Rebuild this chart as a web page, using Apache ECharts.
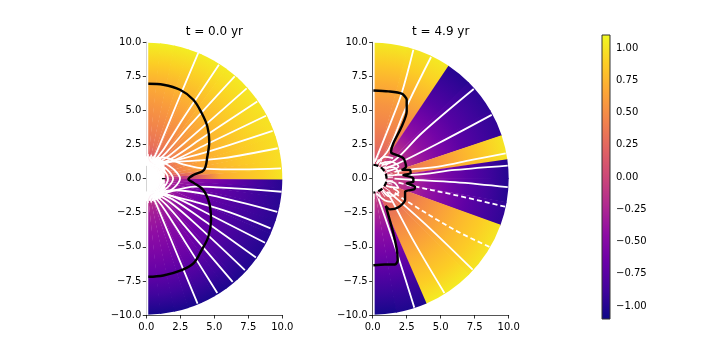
<!DOCTYPE html>
<html><head><meta charset="utf-8">
<style>html,body{margin:0;padding:0;background:#fff}#c{width:708px;height:354px}</style>
<script src="https://cdn.jsdelivr.net/npm/echarts@6/dist/echarts.min.js"></script>
</head><body><div id="c"></div>
<script>
const titles = ['t = 0.0 yr', 't = 4.9 yr'];
const axisTicks = [-10, -7.5, -5, -2.5, 0, 2.5, 5, 7.5, 10];
const colorbarTicks = [-1, -0.75, -0.5, -0.25, 0, 0.25, 0.5, 0.75, 1];
const colorRange = [-1.1, 1.1];
const plasma = ['#0d0887','#41049d','#6a00a8','#8f0da4','#b12a90','#cc4778','#e16462','#f2844b','#fca636','#fcce25','#f0f921'];
const radii = [1, 1.5, 2.5, 4, 5.5, 7, 8.5, 10];

const edgesA = [89.5,84,78,72,66,60,54,48,42,36,30,24,18,12,8,4,-0.5,-4,-8,-12,-18,-24,-30,-36,-42,-48,-54,-60,-66,-72,-78,-84,-89.5];
const fieldA = [
[.05,.12,.30,.44,.56,.70,.88,1.05],
[.05,.13,.31,.45,.57,.71,.88,1.05],
[.05,.14,.32,.46,.59,.72,.89,1.04],
[.06,.15,.33,.48,.61,.74,.89,1.04],
[.07,.16,.35,.50,.63,.76,.90,1.03],
[.08,.18,.36,.52,.65,.78,.91,1.03],
[.09,.20,.38,.55,.68,.80,.92,1.02],
[.10,.21,.40,.57,.70,.81,.92,1.02],
[.10,.22,.41,.60,.72,.83,.93,1.01],
[.10,.23,.43,.62,.74,.84,.93,1.00],
[.10,.24,.44,.64,.75,.84,.93,.99],
[.10,.25,.45,.65,.76,.84,.92,.98],
[.09,.22,.44,.65,.76,.84,.91,.97],
[.05,.15,.40,.62,.76,.84,.90,.96],
[-.02,.05,.20,.50,.72,.82,.90,.97],
[-.10,-.10,-.15,.20,.68,.80,.88,1.00],
[-.08,-.12,-.30,-.50,-.62,-.75,-.88,-.98],
[-.05,-.15,-.36,-.55,-.68,-.80,-.90,-.98],
[-.08,-.20,-.40,-.58,-.70,-.80,-.90,-.98],
[-.10,-.22,-.42,-.60,-.72,-.82,-.90,-.98],
[-.10,-.23,-.43,-.62,-.73,-.83,-.91,-.99],
[-.10,-.22,-.42,-.60,-.72,-.83,-.92,-1.00],
[-.10,-.21,-.40,-.58,-.70,-.81,-.92,-1.01],
[-.09,-.20,-.39,-.56,-.68,-.80,-.92,-1.02],
[-.08,-.19,-.37,-.54,-.66,-.78,-.91,-1.03],
[-.07,-.17,-.36,-.52,-.64,-.76,-.90,-1.03],
[-.06,-.16,-.34,-.50,-.62,-.75,-.90,-1.04],
[-.06,-.15,-.33,-.48,-.60,-.73,-.89,-1.04],
[-.05,-.14,-.32,-.46,-.58,-.72,-.89,-1.05],
[-.05,-.13,-.31,-.45,-.57,-.71,-.88,-1.05],
[-.05,-.12,-.30,-.44,-.56,-.70,-.88,-1.06],
[-.05,-.12,-.30,-.44,-.56,-.70,-.88,-1.06]
];

const edgesB = [89.5,75,65,56,45,30,18.5,8,0,-10,-20,-45,-66.8,-80,-89.5];
const fieldB = [
[.05,.10,.30,.44,.55,.70,.86,1.02],
[.05,.10,.30,.45,.56,.72,.88,1.00],
[.05,.10,.30,.46,.58,.74,.90,1.02],
[.05,-.02,-.15,-.42,-.60,-.78,-.90,-1.00],
[.05,-.02,-.18,-.42,-.60,-.76,-.88,-.97],
[.05,-.02,-.16,-.40,-.58,-.75,-.87,-.95],
[.05,.12,.30,.48,.62,.75,.87,1.00],
[.00,-.02,-.15,-.40,-.58,-.75,-.88,-1.00],
[.00,-.05,-.18,-.42,-.58,-.75,-.88,-1.00],
[-.05,-.10,-.20,-.40,-.55,-.72,-.85,-.95],
[.05,.12,.30,.48,.62,.76,.87,1.00],
[.05,.12,.30,.48,.62,.76,.88,1.03],
[.00,-.08,-.25,-.45,-.60,-.77,-.92,-1.03],
[.00,-.08,-.25,-.45,-.60,-.77,-.92,-1.06]
];

const fanAnglesA = [90,86,82,78,74,70,66,62,58,54,50,46,42,38,34,30,26,22,18,14,10,6,2,-2,-6,-10,-14,-18,-22,-26,-30,-34,-38,-42,-46,-50,-54,-58,-62,-66,-70,-74,-78,-82,-86,-90];
const fanRadiiA = [1.65,1.8,1.65,1.8,1.7,1.8,1.7,1.8,1.7,1.8,1.7,1.75,1.65,1.7,1.6,1.65,1.55,1.5,1.45,1.4,1.38,1.36,1.36,1.36,1.36,1.38,1.4,1.45,1.5,1.55,1.65,1.6,1.7,1.65,1.75,1.7,1.8,1.7,1.8,1.7,1.8,1.7,1.8,1.65,1.8,1.65];
const fanAnglesB = [84,74,64,54,44,34,24,14,4,-6,-16,-26,-36,-46,-56,-66,-76,-86];
const fanRadiiB = [1.5,1.5,1.55,1.6,1.6,1.6,1.55,1.5,1.5,1.5,1.5,1.55,1.6,1.6,1.6,1.55,1.5,1.5];
const whiteA = [
[[3.82,9.22],[2.2,5.4],[1.0,2.5],[.45,1.25]],
[[5.34,8.36],[2.8,4.55],[1.3,2.2],[.5,1.2]],
[[6.5,7.5],[3.2,3.9],[1.5,1.95],[.6,1.15]],
[[7.38,6.62],[3.6,3.3],[1.7,1.7],[.7,1.1]],
[[8.16,5.66],[4,2.9],[1.9,1.5],[.8,1.05]],
[[8.8,4.61],[4.4,2.5],[2.0,1.32],[.9,1.0]],
[[9.29,3.5],[6.15,2.48],[3.7,1.74],[1.74,1.25],[.9,1.1]],
[[9.66,2.23],[5.66,1.5],[3,1.28],[1.37,1.25],[.8,1.3]],
[[9.9,.76],[7,.68],[4.5,.72],[2.7,1.05],[1.3,1.55],[.7,1.5]],
[[.5,1.35],[1.3,1.15],[2,.7],[2.48,0],[2,-.7],[1.3,-1.15],[.5,-1.35]],
[[.5,1.2],[1.2,.9],[1.7,.5],[1.97,0],[1.7,-.5],[1.2,-.9],[.5,-1.2]],
[[.6,1.0],[1.2,.7],[1.6,0],[1.2,-.7],[.6,-1.0]],
[[9.95,-.96],[6.5,-.72],[3.7,-.59],[1.5,-1.03],[.7,-1.5]],
[[9.63,-2.43],[4.7,-1.2],[2.0,-.85],[1.0,-1.0]],
[[9.14,-3.65],[6.15,-2.48],[3.7,-1.74],[1.74,-1.25],[.9,-1.1]],
[[8.73,-4.7],[4.4,-2.5],[2.0,-1.32],[.9,-1.0]],
[[8.06,-5.78],[4,-2.9],[1.9,-1.5],[.8,-1.05]],
[[7.25,-6.71],[3.6,-3.3],[1.7,-1.7],[.7,-1.1]],
[[6.35,-7.57],[3.2,-3.9],[1.5,-1.95],[.6,-1.15]],
[[5.22,-8.38],[2.8,-4.55],[1.3,-2.2],[.5,-1.2]],
[[3.77,-9.17],[2.2,-5.4],[1.0,-2.5],[.45,-1.25]]
];
const blackA = [
[.15,6.96],[1.25,6.89],[2.48,6.52],[3.46,5.79],[4.07,4.81],[4.49,3.82],[4.63,2.72],[4.49,1.62],[4.24,.64],[3.46,.27],[3.09,-.05],[3.46,-.29],[4.19,-.83],[4.63,-1.81],[4.76,-3.04],[4.56,-4.26],[4.07,-5.24],[3.46,-6.22],[2.6,-6.71],[1.25,-7.1],[.15,-7.2]
];
const blackTickA = [[1.15,0],[1.42,0]];

const whiteB = [
[[2.99,9.46],[2.13,6.27],[1.4,4.31],[.17,1.25]],
[[4.29,8.92],[2.38,5.05],[1.15,2.11],[.3,1.13]],
[[7.43,6.57],[3.6,3.33],[1.64,1.37],[.66,1.0]],
[[8.75,4.68],[4.83,2.6],[1.89,1.13],[.9,.76]],
[[9.78,1.86],[7.28,1.37],[4.83,.88],[2.4,.64],[1.6,.5]],
[[9.93,.96],[6.05,.64],[2.87,.27],[1.64,.27]],
[[9.93,-.62],[6.05,-.25],[2.87,-.08],[1.6,0]],
[[7.35,-6.67],[4.34,-3.77],[1.89,-1.57],[1.15,-.96]],
[[5.27,-8.38],[3.11,-4.75],[1.4,-1.57],[1.03,-.96]],
[[3.06,-9.46],[1.64,-5],[.42,-1.45]],
[[.5,1.1],[1.3,1.25],[1.9,.9],[1.0,.55]],
[[.7,.8],[1.5,.85],[1.9,.4],[1.05,.2]],
[[1.0,-.2],[1.6,-.3],[1.9,-.7],[1.0,-.55]],
[[.7,-.8],[1.2,-1.3],[1.9,-1.0],[1.5,-.7]],
[[.3,1.1],[.9,1.6],[1.5,1.5]],
[[.3,-1.1],[.9,-1.6],[1.4,-1.7]]
];
const dashedB = [
[[9.73,-2.06],[6.05,-1.2],[2.62,-.47],[1.89,-.29]],
[[8.58,-5],[6.05,-3.77],[2.38,-1.57],[1.52,-.96]]
];
const blackB = [
[.05,6.47],[1.15,6.4],[2.13,6.23],[2.5,5.78],[2.5,4.93],[2.13,3.82],[1.52,2.6],[1.35,1.99],[1.4,1.87],[2.25,1.5],[2.45,.88],[2.13,.64],[2.74,.64],[2.79,.4],[2.25,.27],[2.99,.03],[2.99,-.22],[2.5,-.34],[3.11,-.59],[3.06,-.78],[2.38,-.96],[2.38,-1.57],[1.89,-2.1],[1.27,-2.25],[.96,-2.0],[1.52,-4.02],[1.76,-5.12],[1.84,-5.98],[1.64,-6.3],[.9,-6.3],[.05,-6.35]
];
const starB = [[.05,1.02],[.36,.95],[.72,.72],[.95,.36],[1.02,0],[.95,-.36],[.72,-.72],[.36,-.95],[.05,-1.02]];
const fieldEdge = [[.07,-10],[.07,10]];

const font = '"DejaVu Sans"';
function colorOf(v){
  const t = Math.max(0, Math.min(1, (v - colorRange[0]) / (colorRange[1] - colorRange[0]))) * (plasma.length - 1);
  const i = Math.min(plasma.length - 2, Math.floor(t)), f = t - i;
  const p = s => [1,3,5].map(k => parseInt(s.substr(k,2),16));
  const a = p(plasma[i]), b = p(plasma[i+1]);
  return 'rgb(' + a.map((x,k) => Math.round(x + (b[k]-x)*f)).join(',') + ')';
}
function wedges(edges, field){
  return field.map((row,i) => [edges[i+1], edges[i], ...row]);
}
function renderWedge(params, api){
  const o = api.coord([0,0]);
  const R = api.size([10,0])[0];
  const lo = api.value(0), hi = api.value(1);
  const stops = radii.map((r,k) => ({offset: r/10, color: colorOf(api.value(2+k))}));
  const pad = 0.15;
  return {
    type:'sector',
    shape:{cx:o[0], cy:o[1], r0:R*radii[0]/10, r:R,
      startAngle:-(hi+pad)*Math.PI/180, endAngle:-(lo-pad)*Math.PI/180, clockwise:true},
    style:{fill:new echarts.graphic.RadialGradient(o[0],o[1],R,stops,true)},
    silent:true
  };
}
function lineSeries(i, data, color, width, dashed, z, smooth){
  return {type:'line', xAxisIndex:i, yAxisIndex:i, data, showSymbol:false, symbol:'none',
    smooth: smooth === undefined ? 0.35 : smooth, silent:true, animation:false, z,
    lineStyle:{color, width, type:dashed ? [5,3] : 'solid', cap:'butt'}};
}
function axisBase(min,max,color,isX){
  return {type:'value', min, max, interval:2.5, splitLine:{show:false},
    axisLine:{show:true, onZero:false, lineStyle:{color, width:1}},
    axisTick:{length:3.5, customValues:axisTicks, lineStyle:{color:'#000', width:0.8}},
    axisLabel:{color:'#000', fontFamily:font, fontSize:10, margin:isX ? 7 : 5, padding:isX ? 0 : [2,0,0,0],
      formatter:v => v.toFixed(1).replace('-', '\u2212')}};
}
const grids = [
  {left:146.3, top:42.3, width:136, height:272.7},
  {left:372.7, top:42.3, width:136, height:272.7},
  {left:602, top:35, width:8, height:284}
];
const series = [];
[[edgesA,fieldA],[edgesB,fieldB]].forEach(([e,f],i)=>{
  series.push({type:'custom', xAxisIndex:i, yAxisIndex:i, data:wedges(e,f), renderItem:renderWedge,
    coordinateSystem:'cartesian2d', encode:{x:0,y:1}, animation:false, silent:true, z:1, clip:false});
  series.push(lineSeries(i,fieldEdge,'#fff',2,false,1.5,false));
});
const fan = (a,r,inner) => a.map((d,k)=>{
  const t = d*Math.PI/180;
  return [[inner*Math.cos(t),inner*Math.sin(t)],[r[k]*Math.cos(t),r[k]*Math.sin(t)]];
});
fan(fanAnglesA,fanRadiiA,0.95).forEach(d=>series.push(lineSeries(0,d,'#fff',1.7,false,2,false)));
fan(fanAnglesB,fanRadiiB,1).forEach(d=>series.push(lineSeries(1,d,'#fff',0.9,false,2,false)));
whiteA.forEach(d=>series.push(lineSeries(0,d,'#fff',1.8,false,2)));
series.push(lineSeries(0,blackA,'#000',2.4,false,3));
series.push(lineSeries(0,blackTickA,'#000',1.4,false,3,false));
whiteB.forEach(d=>series.push(lineSeries(1,d,'#fff',1.8,false,2)));
dashedB.forEach(d=>series.push(lineSeries(1,d,'#fff',1.8,true,2)));
series.push(lineSeries(1,blackB,'#000',2.4,false,3,0.25));
series.push(lineSeries(1,starB,'#000',2.2,true,3));
series.push({type:'custom', xAxisIndex:2, yAxisIndex:2, data:[[0,colorRange[0],1,colorRange[1]]], animation:false, silent:true,
  encode:{x:0,y:1},
  renderItem:(p,api)=>{
    const a = api.coord([api.value(0),api.value(3)]), b = api.coord([api.value(2),api.value(1)]);
    return {type:'rect', shape:{x:a[0],y:a[1],width:b[0]-a[0],height:b[1]-a[1]},
      style:{fill:new echarts.graphic.LinearGradient(0,1,0,0,plasma.map((c,k)=>({offset:k/(plasma.length-1),color:c}))),
        stroke:'#333', lineWidth:1}};
  }});
const chart = echarts.init(document.getElementById('c'), null, {renderer:'canvas'});
chart.setOption({
  animation:false, backgroundColor:'#fff',
  title:titles.map((t,i)=>({text:t, left:[214.3,440.7][i], top:26, textAlign:'center',
    textStyle:{fontFamily:font, fontSize:12, fontWeight:'normal', color:'#000'}, padding:0})),
  grid:grids,
  xAxis:[
    Object.assign(axisBase(0,10,'#555',true),{gridIndex:0, position:'bottom'}),
    Object.assign(axisBase(0,10,'#555',true),{gridIndex:1, position:'bottom'}),
    {gridIndex:2, type:'value', min:0, max:1, show:false}
  ],
  yAxis:[
    Object.assign(axisBase(-10,10,'#555',false),{gridIndex:0, position:'left'}),
    Object.assign(axisBase(-10,10,'#000',false),{gridIndex:1, position:'left'}),
    {gridIndex:2, type:'value', min:colorRange[0], max:colorRange[1], position:'right', splitLine:{show:false},
      axisLine:{show:false},
      axisTick:{show:true, length:3.5, customValues:colorbarTicks, lineStyle:{color:'#000', width:0.8}},
      axisLabel:{show:true, customValues:colorbarTicks, color:'#000', fontFamily:font, fontSize:10, margin:6, padding:[2,0,0,0],
        formatter:v => v.toFixed(2).replace('-', '\u2212')}}
  ],
  series
});
</script></body></html>
